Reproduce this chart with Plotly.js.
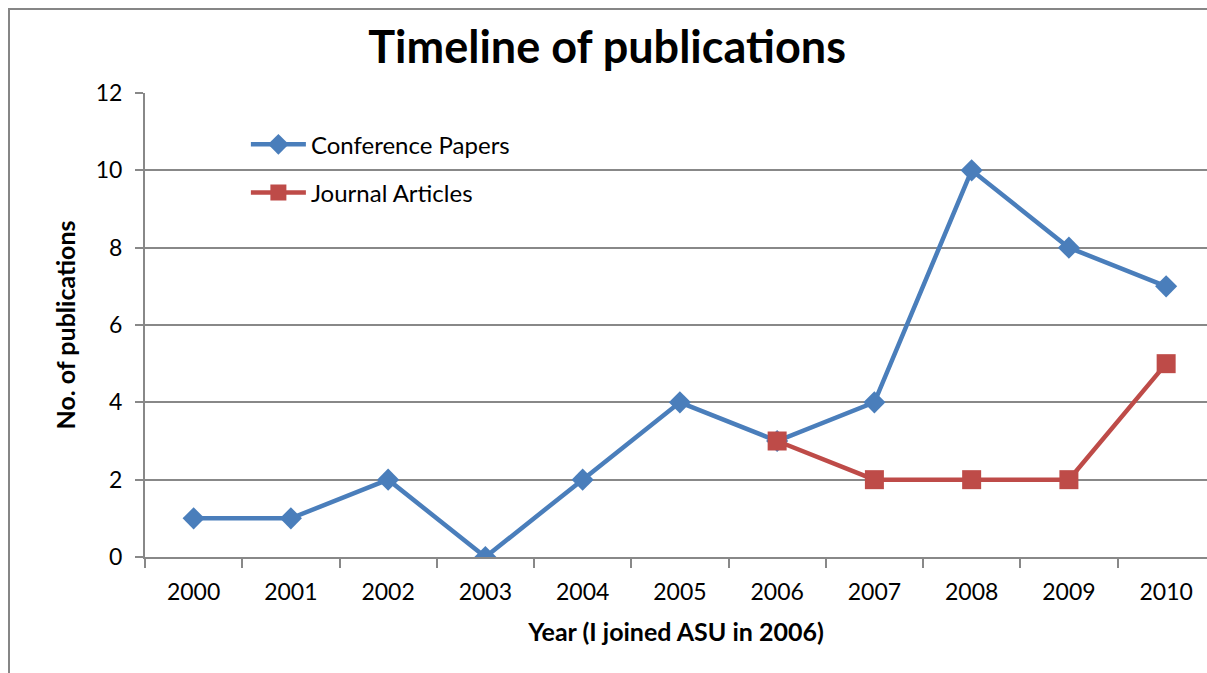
<!DOCTYPE html>
<html>
<head>
<meta charset="utf-8">
<script src="https://cdn.plot.ly/plotly-3.0.1.min.js"></script>
<style>
html,body{margin:0;padding:0;background:#fff;overflow:hidden;}
#chart{width:1207px;height:673px;}
#frame{position:absolute;left:8px;top:8px;width:2000px;height:2000px;border:2px solid #868686;pointer-events:none;box-sizing:border-box;}
</style>
</head>
<body>
<div id="chart"></div>
<div id="frame"></div>
<script>
const years = ['2000','2001','2002','2003','2004','2005','2006','2007','2008','2009','2010'];
const conferencePapers = [1,1,2,0,2,4,3,4,10,8,7];
const journalYears = ['2006','2007','2008','2009','2010'];
const journalArticles = [3,2,2,2,5];
const yTicks = [0,2,4,6,8,10,12];

const FONT = 'Lato, "Open Sans", sans-serif';
const grid = '#888888';

const traces = [
  {x: years, y: conferencePapers, name: 'Conference Papers', type: 'scatter', mode: 'lines+markers',
   line: {color: '#4A7EBB', width: 4.5}, marker: {symbol: 'diamond', size: 17, color: '#4A7EBB'},
   legendgroup: 'a'},
  {x: journalYears, y: journalArticles, name: 'Journal Articles', type: 'scatter', mode: 'lines+markers',
   line: {color: '#BE4B48', width: 4.5}, marker: {symbol: 'square', size: 19, color: '#BE4B48'},
   legendgroup: 'b'}
];

const layout = {
  width: 1207, height: 673,
  margin: {l: 145, r: 0, t: 93, b: 116},
  paper_bgcolor: '#ffffff', plot_bgcolor: '#ffffff',
  font: {family: FONT, size: 23, color: '#000'},
  title: {text: '<b>Timeline of publications</b>', font: {family: FONT, size: 45, color: '#000'},
          x: 0.503, xanchor: 'center', y: 0.93, yanchor: 'middle'},
  showlegend: true,
  legend: {x: 0.095, y: 0.937, xanchor: 'left', yanchor: 'top', bgcolor: 'rgba(0,0,0,0)',
           font: {family: FONT, size: 24, color: '#000'}, itemwidth: 55, tracegroupgap: 14,
           traceorder: 'grouped'},
  xaxis: {type: 'category', categoryorder: 'array', categoryarray: years,
          range: [-0.5, 10.42], tickson: 'boundaries', ticks: 'outside', ticklen: 9, tickwidth: 2,
          tickcolor: grid, showline: true, linecolor: grid, linewidth: 2, showgrid: false,
          tickfont: {family: FONT, size: 23, color: '#000'}, ticklabelstandoff: 13,
          title: {text: '<b>Year (I joined ASU in 2006)</b>', font: {family: FONT, size: 25, color: '#000'}, standoff: 20},
          fixedrange: true},
  yaxis: {range: [0, 12], tickvals: yTicks, ticks: 'outside', ticklen: 8, tickwidth: 2, tickcolor: grid,
          showline: true, linecolor: grid, linewidth: 2, showgrid: true, gridcolor: grid, gridwidth: 2,
          zeroline: false, tickfont: {family: FONT, size: 23, color: '#000'}, ticklabelstandoff: 8,
          title: {text: '<b>No. of publications</b>', font: {family: FONT, size: 25, color: '#000'}, standoff: 13},
          fixedrange: true}
};

Plotly.newPlot('chart', traces, layout, {displayModeBar: false, staticPlot: true});
</script>
</body>
</html>
